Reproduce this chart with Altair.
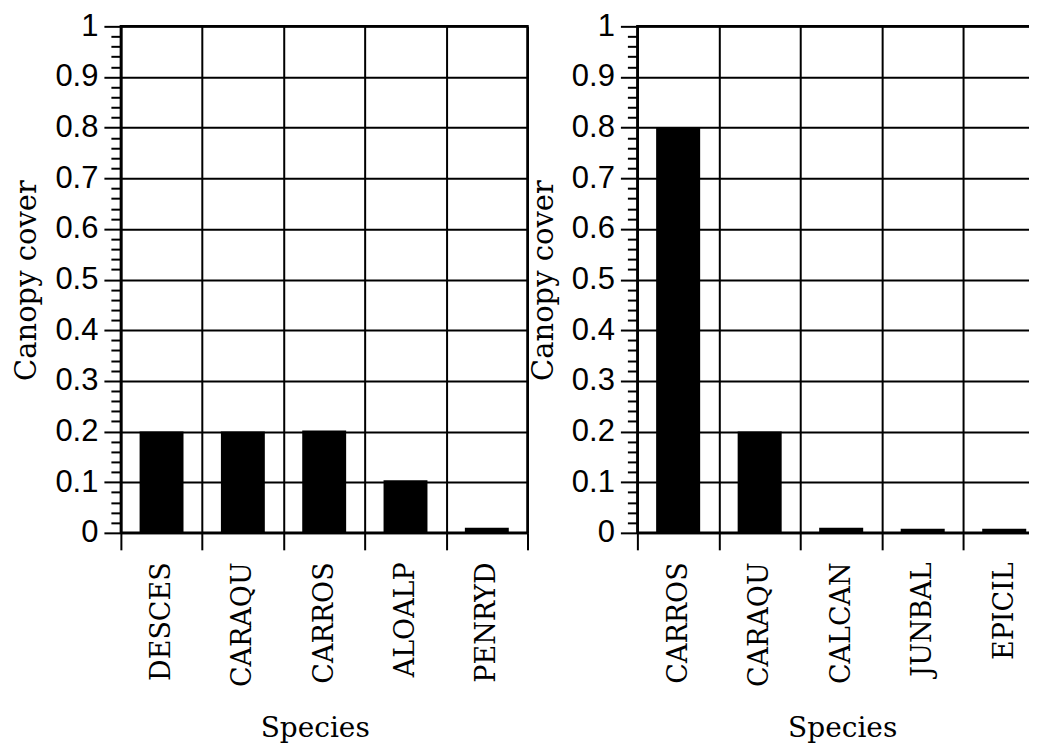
import altair as alt
import pandas as pd

left_species = ["DESCES", "CARAQU", "CARROS", "ALOALP", "PENRYD"]
left_cover = [0.2, 0.2, 0.202, 0.104, 0.01]
right_species = ["CARROS", "CARAQU", "CALCAN", "JUNBAL", "EPICIL"]
right_cover = [0.8, 0.2, 0.01, 0.008, 0.008]
y_tick_values = [round(i * 0.02, 2) for i in range(51)]

MAJOR = "abs(datum.value*10 - round(datum.value*10)) < 0.001"


def panel(species, cover, width, title_x):
    df = pd.DataFrame({"Species": species, "cover": cover})
    x_axis = alt.Axis(
        tickBand="extent", grid=True, gridColor="black", gridWidth=2,
        labelAngle=-90, labelFont="DejaVu Serif", labelFontSize=27,
        labelPadding=12, labelColor="black",
        tickSize=17, tickWidth=2, tickColor="black",
        domainColor="black", domainWidth=2,
        titleFont="DejaVu Serif", titleFontSize=28, titleFontWeight="normal",
        titleColor="black", titleBaseline="alphabetic", titleAlign="center",
        titleX=title_x, titleY=204,
    )
    y_axis = alt.Axis(
        values=y_tick_values,
        labelExpr=f"({MAJOR}) ? format(datum.value, '.1~f') : ''",
        labelOverlap=False, labelFlush=False,
        labelFont="Liberation Sans", labelFontSize=31, labelColor="black",
        labelPadding=6,
        tickSize={"condition": {"test": MAJOR, "value": 17}, "value": 10},
        tickWidth=2, tickColor="black",
        grid=True, gridColor="black", gridWidth=2,
        gridOpacity={"condition": {"test": MAJOR, "value": 1}, "value": 0},
        domainColor="black", domainWidth=2,
        titleFont="DejaVu Serif", titleFontSize=29, titleFontWeight="normal",
        titleColor="black", titleBaseline="alphabetic", titleAlign="center",
        titleAngle=-90, titleX=-85, titleY=254,
    )
    return alt.Chart(df).mark_bar(
        color="black", width=alt.RelativeBandSize(0.54)
    ).encode(
        x=alt.X("Species:N", sort=species, title="Species",
                scale=alt.Scale(paddingInner=0, paddingOuter=0),
                axis=x_axis),
        y=alt.Y("cover:Q", title="Canopy cover",
                scale=alt.Scale(domain=[0, 1], nice=False, zero=True),
                axis=y_axis),
    ).properties(width=width, height=507)


chart = alt.hconcat(
    panel(left_species, left_cover, 407, 194),
    panel(right_species, right_cover, 408, 205),
    spacing=-3,
).properties(
    padding={"left": 3, "top": 0, "right": -19, "bottom": 0},
    background="white",
).configure_view(stroke="black", strokeWidth=2.5)

chart.save("out.html", embed_options={"renderer": "svg", "actions": False})
